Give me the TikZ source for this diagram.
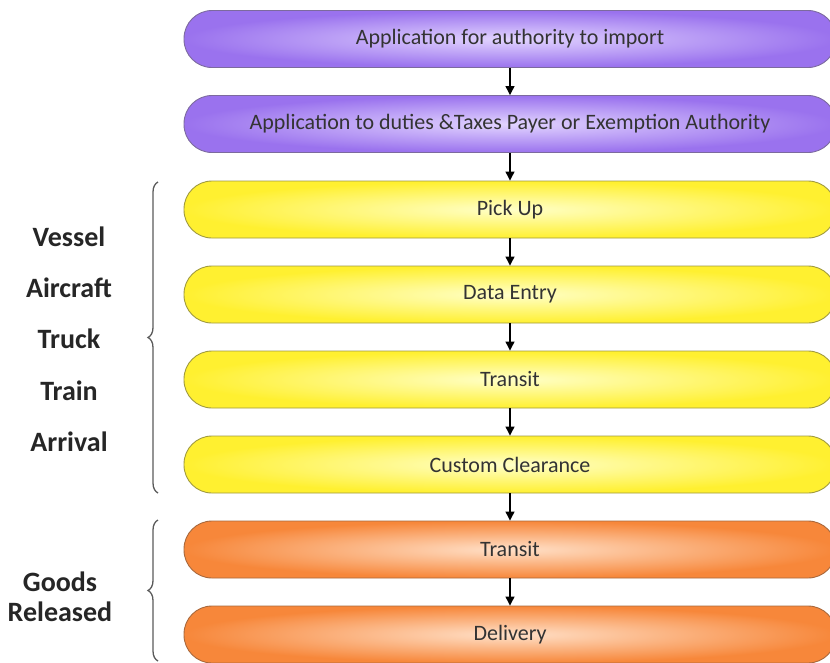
\documentclass[tikz,border=0pt]{standalone}
\usepackage{fontspec}
\setmainfont{Carlito}
\usetikzlibrary{arrows.meta,decorations.pathreplacing}

\definecolor{txt}{HTML}{333333}
\definecolor{purpleEdge}{HTML}{9A72EE}
\definecolor{purpleMid}{HTML}{E2D4FF}
\definecolor{purpleLine}{HTML}{7C6A9E}
\definecolor{yellowEdge}{HTML}{FFF030}
\definecolor{yellowMid}{HTML}{FFFFC8}
\definecolor{yellowLine}{HTML}{A09A40}
\definecolor{orangeEdge}{HTML}{F7873A}
\definecolor{orangeMid}{HTML}{FFE0C8}
\definecolor{orangeLine}{HTML}{A8683C}
\definecolor{braceGrey}{HTML}{5A5A5A}

\tikzset{
  stage/.style={draw, line width=0.9pt, rounded corners=28pt,
    minimum width=652pt, minimum height=57pt, inner sep=0pt,
    font=\fontsize{22}{26}\selectfont, text=txt},
  applybox/.style={stage, draw=purpleLine, inner color=purpleMid, outer color=purpleEdge},
  transportbox/.style={stage, draw=yellowLine, inner color=yellowMid, outer color=yellowEdge},
  releasebox/.style={stage, draw=orangeLine, inner color=orangeMid, outer color=orangeEdge},
  flow/.style={line width=1.2pt, -{Triangle[length=9pt,width=9pt]}},
  groupbrace/.style={draw=braceGrey, line width=1.3pt,
    decorate, decoration={brace, amplitude=10pt}},
  grouplabel/.style={font=\bfseries\fontsize{28}{34}\selectfont, text=black!85, align=center}
}

\begin{document}
\begin{tikzpicture}[x=1pt, y=-1pt]
\useasboundingbox (0,0) rectangle (830,662);

% process stages
\node[applybox] (auth) at (510,39) {Application for authority to import};
\node[applybox] (duty) at (510,124) {Application to duties \&Taxes Payer or Exemption Authority};
\node[transportbox] (pick) at (510,209.5) {Pick Up};
\node[transportbox] (data) at (510,294.5) {Data Entry};
\node[transportbox] (tran) at (510,379.5) {Transit};
\node[transportbox] (cust) at (510,464.5) {Custom Clearance};
\node[releasebox] (tran2) at (510,549.5) {Transit};
\node[releasebox] (deliv) at (510,634.5) {Delivery};

% flow between stages
\draw[flow] (auth) -- (duty);
\draw[flow] (duty) -- (pick);
\draw[flow] (pick) -- (data);
\draw[flow] (data) -- (tran);
\draw[flow] (tran) -- (cust);
\draw[flow] (cust) -- (tran2);
\draw[flow] (tran2) -- (deliv);

% grouping braces
\coordinate (b1top) at (158,182);
\coordinate (b1bot) at (158,493);
\coordinate (b2top) at (158,520);
\coordinate (b2bot) at (158,661);
\draw[groupbrace] (b1bot) -- (b1top);
\draw[groupbrace] (b2bot) -- (b2top);

% group labels
\node[grouplabel] (vessel) at (69,237) {Vessel};
\node[grouplabel] (aircraft) at (69,288) {Aircraft};
\node[grouplabel] (truck) at (69,339) {Truck};
\node[grouplabel] (train) at (69,391) {Train};
\node[grouplabel] (arrival) at (69,442) {Arrival};
\node[grouplabel] (goods) at (60,582) {Goods};
\node[grouplabel] (released) at (60,612) {Released};
\end{tikzpicture}
\end{document}
